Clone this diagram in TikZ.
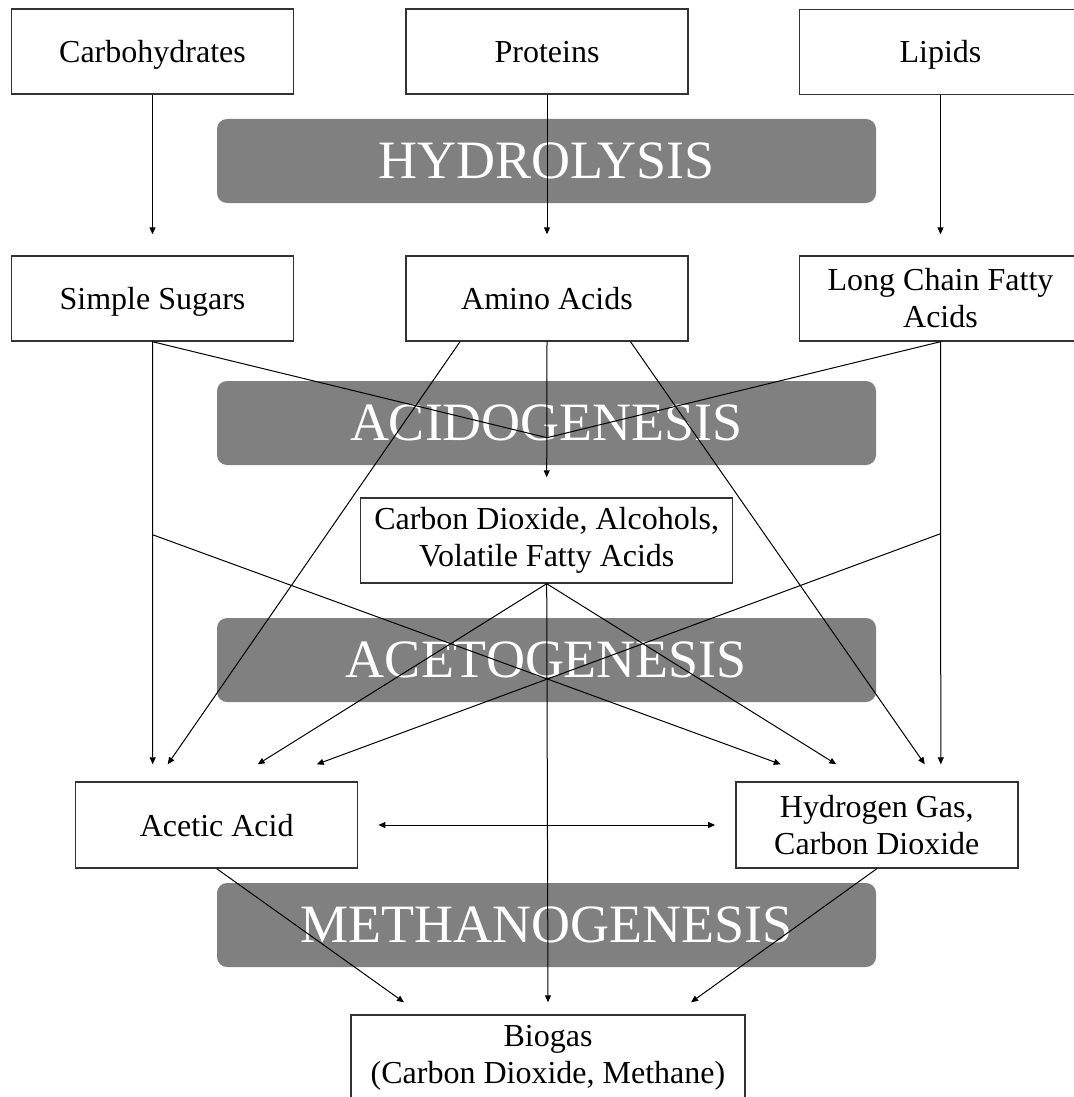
\documentclass[tikz,border=0pt]{standalone}
\usepackage{fontspec}
\setmainfont{Liberation Serif}
\usepackage{xcolor}
\definecolor{BandGray}{HTML}{808080}
\definecolor{EdgeGray}{HTML}{333333}
\usetikzlibrary{arrows.meta, calc}

\begin{document}
\begin{tikzpicture}[x=0.5pt, y=-0.5pt, >={Triangle[length=3.5pt,width=3pt]},
  box/.style={draw=EdgeGray, line width=0.7pt, fill=white, minimum width=141pt,
    minimum height=42.5pt, inner sep=0pt, align=center,
    font=\fontsize{16}{18.5}\selectfont},
  onebox/.style={box, text height=14pt, text depth=3pt},
  band/.style={fill=BandGray, rounded corners=5pt, minimum width=329.5pt,
    minimum height=42pt, inner sep=0pt, text=white,
    font=\fontsize{27}{31}\selectfont},
  flow/.style={->, line width=0.5pt}]
  \useasboundingbox (0,0) rectangle (1073,1097);

  % Stage bands
  \node[band] (hydro) at (546.5,161) {HYDROLYSIS};
  \node[band] (acido) at (546.5,423) {ACIDOGENESIS};
  \node[band] (aceto) at (546.5,660) {ACETOGENESIS};
  \node[band] (metha) at (546.5,925) {METHANOGENESIS};

  % Substrates and products
  \node[onebox] (carbs) at (152.5,51.5) {Carbohydrates};
  \node[onebox] (proteins) at (547,51.5) {Proteins};
  \node[onebox] (lipids) at (940.5,52) {Lipids};
  \node[onebox] (sugars) at (152.5,298.5) {Simple Sugars};
  \node[onebox] (amino) at (547,298.5) {Amino Acids};
  \node[box] (lcfa) at (940.5,298.5) {Long Chain Fatty\\Acids};
  \node[box, minimum width=186pt] (co2) at (546.7,540.5) {Carbon Dioxide, Alcohols,\\Volatile Fatty Acids};
  \node[onebox, minimum height=43pt] (acetic) at (216.7,825) {Acetic Acid};
  \node[box, minimum height=43pt] (hydrogen) at (876.8,825) {Hydrogen Gas,\\Carbon Dioxide};
  \node[box, minimum width=197pt, minimum height=43pt] (biogas) at (548,1058) {Biogas\\(Carbon Dioxide, Methane)};

  % Arrow ends and branch points
  \coordinate (sugars-in) at ($(sugars.north)+(0,-21)$);
  \coordinate (amino-in) at ($(amino.north)+(0,-21)$);
  \coordinate (lcfa-in) at ($(lcfa.north)+(0,-21)$);
  \coordinate (co2-in) at ($(co2.north)+(0,-20)$);
  \coordinate (acid-join) at ($(amino.south)+(0,96)$);
  \coordinate (sugars-fork) at ($(sugars.south)+(0,193)$);
  \coordinate (lcfa-fork) at ($(lcfa.south)+(0,192)$);
  \coordinate (amino-left) at ($(amino.south)+(-87,0)$);
  \coordinate (amino-right) at ($(amino.south)+(83.5,0)$);
  \coordinate (acetic-in1) at ($(acetic.north)+(-64,-17)$);
  \coordinate (acetic-in2) at ($(acetic.north)+(-49,-17)$);
  \coordinate (acetic-in3) at ($(acetic.north)+(41,-17)$);
  \coordinate (acetic-in4) at ($(acetic.north)+(100,-17)$);
  \coordinate (hydrogen-in1) at ($(hydrogen.north)+(-96,-17)$);
  \coordinate (hydrogen-in2) at ($(hydrogen.north)+(-40.5,-17)$);
  \coordinate (hydrogen-in3) at ($(hydrogen.north)+(48,-17)$);
  \coordinate (hydrogen-in4) at ($(hydrogen.north)+(64,-17)$);
  \coordinate (biogas-in1) at ($(biogas.north)+(-144,-12)$);
  \coordinate (biogas-in2) at ($(biogas.north)+(0,-12)$);
  \coordinate (biogas-in3) at ($(biogas.north)+(143,-12)$);

  % Hydrolysis
  \draw[flow] (carbs.south) -- (sugars-in);
  \draw[flow] (proteins.south) -- (amino-in);
  \draw[flow] (lipids.south) -- (lcfa-in);

  % Acidogenesis
  \draw[flow] (amino.south) -- (co2-in);
  \draw[line width=0.5pt] (sugars.south) -- (acid-join) -- (lcfa.south);

  % Acetogenesis
  \draw[flow] (sugars.south) -- (acetic-in1);
  \draw[flow] (amino-left) -- (acetic-in2);
  \draw[flow] (co2.south) -- (acetic-in3);
  \draw[flow] (lcfa-fork) -- (acetic-in4);
  \draw[flow] (sugars-fork) -- (hydrogen-in1);
  \draw[flow] (co2.south) -- (hydrogen-in2);
  \draw[flow] (amino-right) -- (hydrogen-in3);
  \draw[flow] (lcfa.south) -- (hydrogen-in4);
  \draw[flow, <->] ($(acetic.east)+(20,0)$) -- ($(hydrogen.west)+(-20,0)$);

  % Methanogenesis
  \draw[flow] (acetic.south) -- (biogas-in1);
  \draw[flow] (co2.south) -- (biogas-in2);
  \draw[flow] (hydrogen.south) -- (biogas-in3);
\end{tikzpicture}
\end{document}
